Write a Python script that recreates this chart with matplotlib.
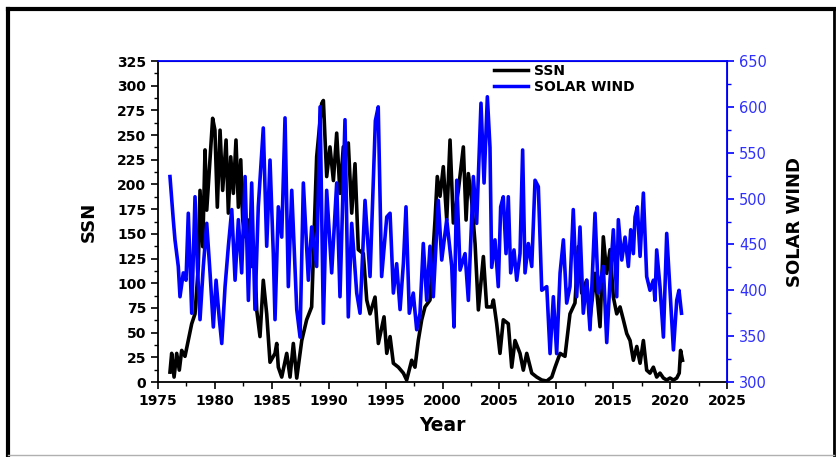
import matplotlib
matplotlib.use("Agg")
import matplotlib.pyplot as plt
from matplotlib.ticker import MultipleLocator
from matplotlib.lines import Line2D

# monthly sunspot number (sampled)
ssn_year = [1976.05, 1976.20, 1976.41, 1976.64, 1976.87, 1977.08, 1977.37, 1977.66, 1977.96, 1978.25,
            1978.54, 1978.69, 1978.93, 1979.13, 1979.28, 1979.57, 1979.80, 1980.00, 1980.21, 1980.45,
            1980.68, 1980.98, 1981.18, 1981.39, 1981.62, 1981.85, 1982.06, 1982.27, 1982.44, 1982.65,
            1982.94, 1983.23, 1983.52, 1983.67, 1983.96, 1984.25, 1984.55, 1984.84, 1985.28, 1985.43,
            1985.57, 1985.87, 1986.31, 1986.60, 1986.89, 1987.19, 1987.63, 1988.06, 1988.50, 1988.94,
            1989.38, 1989.53, 1989.82, 1990.11, 1990.41, 1990.70, 1990.99, 1991.28, 1991.72, 1992.02,
            1992.31, 1992.60, 1993.04, 1993.34, 1993.63, 1994.07, 1994.36, 1994.86, 1995.10, 1995.39,
            1995.68, 1996.12, 1996.56, 1996.85, 1997.29, 1997.58, 1997.87, 1998.17, 1998.46, 1998.90,
            1999.34, 1999.54, 1999.78, 2000.07, 2000.37, 2000.66, 2000.95, 2001.39, 2001.83, 2002.07,
            2002.27, 2002.56, 2002.86, 2003.15, 2003.59, 2003.88, 2004.32, 2004.47, 2004.76, 2005.05,
            2005.34, 2005.78, 2006.08, 2006.37, 2006.81, 2007.10, 2007.40, 2007.84, 2008.28, 2008.72,
            2009.16, 2009.60, 2009.89, 2010.33, 2010.76, 2011.20, 2011.64, 2011.93, 2012.23, 2012.67,
            2012.96, 2013.40, 2013.84, 2014.13, 2014.43, 2014.72, 2015.01, 2015.31, 2015.60, 2015.89,
            2016.19, 2016.48, 2016.77, 2017.07, 2017.36, 2017.65, 2017.94, 2018.23, 2018.53, 2018.82,
            2019.11, 2019.41, 2019.70, 2019.99, 2020.29, 2020.58, 2020.80, 2020.92, 2021.09]
ssn = [10, 29, 5, 29, 12, 32, 26, 42, 59, 69,
       117, 194, 137, 235, 174, 225, 267, 255, 177, 255,
       194, 245, 171, 228, 191, 245, 177, 225, 164, 147,
       164, 117, 120, 73, 46, 103, 69, 20, 29, 39,
       15, 5, 29, 5, 39, 4, 42, 63, 76, 228,
       282, 285, 208, 238, 204, 252, 191, 238, 242, 171,
       221, 134, 130, 83, 69, 86, 39, 66, 29, 46,
       19, 15, 9, 2, 22, 15, 42, 63, 76, 83,
       164, 208, 188, 218, 164, 245, 161, 194, 238, 164,
       211, 184, 140, 73, 127, 76, 76, 83, 59, 29,
       63, 59, 15, 42, 29, 12, 29, 9, 5, 2,
       1, 5, 15, 29, 26, 69, 80, 137, 90, 103,
       63, 110, 56, 147, 110, 134, 86, 69, 76, 63,
       49, 42, 22, 36, 19, 42, 12, 9, 15, 5,
       9, 4, 2, 4, 2, 4, 9, 32, 22]

# solar wind speed (km/s)
wind_year = [1976.05, 1976.34, 1976.49, 1976.78, 1976.93, 1977.22, 1977.46, 1977.66, 1977.96, 1978.25,
             1978.46, 1978.69, 1978.98, 1979.28, 1979.57, 1979.86, 1980.10, 1980.39, 1980.60, 1980.89,
             1981.18, 1981.48, 1981.77, 1982.06, 1982.35, 1982.65, 1982.94, 1983.23, 1983.52, 1983.81,
             1984.25, 1984.55, 1984.84, 1985.13, 1985.28, 1985.57, 1985.87, 1986.16, 1986.45, 1986.75,
             1987.19, 1987.48, 1987.77, 1988.21, 1988.50, 1988.94, 1989.24, 1989.53, 1989.82, 1990.26,
             1990.70, 1990.99, 1991.43, 1991.72, 1992.02, 1992.46, 1992.75, 1993.19, 1993.63, 1994.10,
             1994.35, 1994.65, 1995.10, 1995.39, 1995.68, 1995.97, 1996.27, 1996.56, 1996.79, 1997.08,
             1997.43, 1997.73, 1998.02, 1998.31, 1998.61, 1998.90, 1999.19, 1999.63, 1999.93, 2000.37,
             2000.81, 2001.01, 2001.25, 2001.54, 2001.98, 2002.27, 2002.71, 2003.00, 2003.38, 2003.65,
             2003.94, 2004.17, 2004.32, 2004.61, 2004.90, 2005.11, 2005.34, 2005.58, 2005.78, 2005.99,
             2006.28, 2006.52, 2006.81, 2007.04, 2007.25, 2007.54, 2007.84, 2008.13, 2008.42, 2008.72,
             2009.16, 2009.45, 2009.74, 2010.03, 2010.33, 2010.62, 2010.91, 2011.20, 2011.49, 2011.79,
             2012.08, 2012.37, 2012.67, 2012.96, 2013.40, 2013.69, 2014.13, 2014.43, 2014.72, 2015.01,
             2015.31, 2015.45, 2015.75, 2016.04, 2016.33, 2016.54, 2016.77, 2016.92, 2017.12, 2017.36,
             2017.65, 2017.94, 2018.23, 2018.53, 2018.67, 2018.82, 2019.11, 2019.41, 2019.70, 2019.99,
             2020.29, 2020.58, 2020.78, 2021.00]
wind = [524, 477, 455, 426, 393, 419, 411, 484, 375, 502,
        426, 368, 426, 473, 419, 360, 411, 368, 342, 404,
        448, 488, 411, 477, 419, 524, 389, 517, 379, 491,
        577, 448, 542, 440, 368, 491, 458, 588, 404, 509,
        379, 349, 517, 411, 469, 426, 600, 364, 509, 419,
        517, 393, 586, 371, 473, 397, 375, 498, 415, 585,
        600, 415, 480, 484, 397, 429, 379, 429, 491, 375,
        397, 357, 375, 451, 389, 448, 393, 498, 433, 477,
        426, 360, 520, 422, 440, 389, 524, 473, 604, 517,
        611, 556, 425, 455, 404, 491, 502, 440, 502, 419,
        444, 411, 440, 553, 419, 451, 426, 520, 513, 400,
        404, 331, 393, 331, 419, 455, 386, 404, 488, 393,
        469, 375, 411, 357, 484, 397, 426, 343, 411, 466,
        393, 477, 433, 458, 426, 466, 440, 480, 491, 437,
        506, 415, 400, 411, 389, 444, 404, 349, 462, 400,
        335, 389, 400, 375]

BLUE = "#0000ff"
TICK_BLUE = "#3030ff"

fig = plt.figure(figsize=(8.37, 4.57), dpi=100)
ax = fig.add_axes([0.1888, 0.1641, 0.6798, 0.7024])
ax2 = ax.twinx()

l1, = ax.plot(ssn_year, ssn, color="black", lw=2.6, label="SSN")
l2, = ax2.plot(wind_year, wind, color=BLUE, lw=2.6, label="SOLAR WIND")

ax.set_xlim(1975, 2025)
ax.set_ylim(0, 325)
ax2.set_ylim(300, 650)

ax.xaxis.set_major_locator(MultipleLocator(5))
ax.xaxis.set_minor_locator(MultipleLocator(2.5))
ax.yaxis.set_major_locator(MultipleLocator(25))
ax.yaxis.set_minor_locator(MultipleLocator(12.5))
ax2.yaxis.set_major_locator(MultipleLocator(50))
ax2.yaxis.set_minor_locator(MultipleLocator(25))

ax.tick_params(axis="both", which="major", direction="out", length=5, width=1.2,
               labelsize=10, top=False)
ax.tick_params(axis="both", which="minor", direction="out", length=3, width=1.0, top=False)
for lab in ax.get_xticklabels() + ax.get_yticklabels():
    lab.set_fontweight("bold")

ax2.tick_params(axis="y", which="major", direction="out", length=5, width=1.2,
                colors=BLUE, labelcolor=TICK_BLUE, labelsize=10.5)
ax2.tick_params(axis="y", which="minor", direction="out", length=3, width=1.0, colors=BLUE)
# inward blue ticks along the top spine
ax2.xaxis.set_ticks_position("top")
ax2.tick_params(axis="x", which="major", direction="in", length=5, width=1.2,
                colors=BLUE, labeltop=False)
ax2.tick_params(axis="x", which="minor", direction="in", length=3, width=1.0, colors=BLUE)

for side in ("left", "bottom"):
    ax.spines[side].set_linewidth(1.3)
ax2.spines["top"].set_color(BLUE)
ax2.spines["right"].set_color(BLUE)
ax2.spines["top"].set_linewidth(1.3)
ax2.spines["right"].set_linewidth(1.3)
ax2.spines["left"].set_visible(False)
ax2.spines["bottom"].set_visible(False)

ax.set_xlabel("Year", fontsize=13.5, fontweight="bold", labelpad=6)
ax.set_ylabel("SSN", fontsize=13, fontweight="bold", labelpad=14)
ax2.set_ylabel("SOLAR WIND", fontsize=13, fontweight="bold", labelpad=14)

leg = ax.legend(handles=[l1, l2], loc="upper left", bbox_to_anchor=(0.59, 0.99),
                frameon=False, prop={"weight": "bold", "size": 10},
                handlelength=2.5, handletextpad=0.4, labelspacing=0.15,
                borderpad=0, borderaxespad=0)
for h in leg.get_lines():
    h.set_linewidth(2.5)

# outer frame of the figure
W, H = 837, 457
def px(x, y):
    return x / W, 1 - y / H
fig.add_artist(Line2D(*zip(px(8, 9), px(834, 9)), color="black", lw=3, transform=fig.transFigure))
fig.add_artist(Line2D(*zip(px(8, 9), px(8, 457)), color="black", lw=3, transform=fig.transFigure))
fig.add_artist(Line2D(*zip(px(834, 9), px(834, 457)), color="black", lw=2, transform=fig.transFigure))
fig.add_artist(Line2D(*zip(px(8, 455), px(834, 455)), color="#b0b0b0", lw=1, transform=fig.transFigure))

fig.savefig("out.png", dpi=100)
